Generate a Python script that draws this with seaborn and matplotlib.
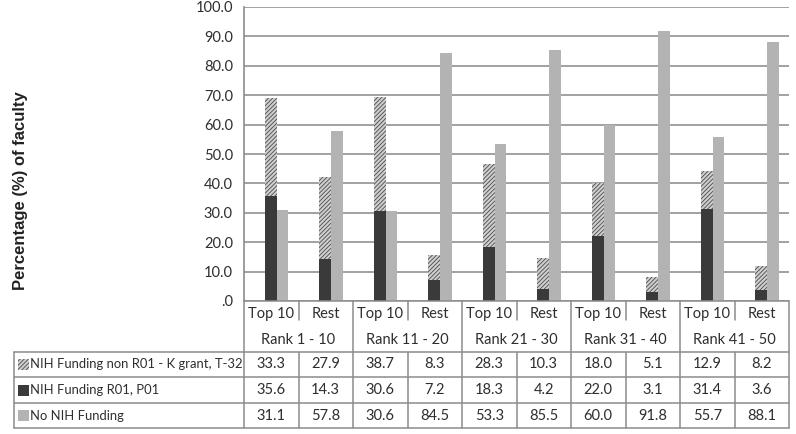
import matplotlib
matplotlib.use("Agg")
import matplotlib.pyplot as plt
from matplotlib.patches import Rectangle
import seaborn as sns
import numpy as np

groups = ["Rank 1 - 10", "Rank 11 - 20", "Rank 21 - 30", "Rank 31 - 40", "Rank 41 - 50"]
subgroups = ["Top 10", "Rest"]
series_names = ["NIH Funding non R01 - K grant, T-32", "NIH Funding R01, P01", "No NIH Funding"]
non_r01 = [33.3, 27.9, 38.7, 8.3, 28.3, 10.3, 18.0, 5.1, 12.9, 8.2]
r01 = [35.6, 14.3, 30.6, 7.2, 18.3, 4.2, 22.0, 3.1, 31.4, 3.6]
no_nih = [31.1, 57.8, 30.6, 84.5, 53.3, 85.5, 60.0, 91.8, 55.7, 88.1]
yticks = np.arange(0, 101, 10)

sns.set_style("white")
plt.rcParams['font.family'] = ['Lato', 'DejaVu Sans']
plt.rcParams['hatch.linewidth'] = 0.6

DARK = '#3a3a3a'
LIGHT = '#b3b3b3'
HATCH_BG = '#cfcfcf'
HATCH_FG = '#4a4a4a'
LINE = '#8c8c8c'
TXT = '#2e2e2e'

W, H = 796, 434
fig = plt.figure(figsize=(W / 100, H / 100), dpi=100)

# pixel layout
x0, x1 = 244, 789
y_top, y_bot = 7, 301
ncol = len(non_r01)
colw = (x1 - x0) / ncol

ax = fig.add_axes([x0 / W, 1 - y_bot / H, (x1 - x0) / W, (y_bot - y_top) / H])
x = np.arange(ncol)
bw = 0.215
ax.bar(x + 0.49, r01, width=bw, color=DARK, linewidth=0, zorder=3)
ax.bar(x + 0.49, non_r01, bottom=r01, width=bw, facecolor=HATCH_BG,
       edgecolor=HATCH_FG, hatch='////////', linewidth=0, zorder=3)
ax.bar(x + 0.705, no_nih, width=bw, color=LIGHT, linewidth=0, zorder=3)

ax.set_xlim(0, ncol)
ax.set_ylim(0, 100)
ax.set_yticks(yticks)
ax.set_yticklabels([".0" if v == 0 else f"{v:.1f}" for v in yticks],
                   fontsize=10.5, color=TXT)
ax.tick_params(axis='y', length=0, pad=8)
ax.set_xticks([])
ax.yaxis.grid(True, color='#9a9a9a', linewidth=1.3, zorder=0)
ax.set_axisbelow(True)
for s in ['top', 'right', 'bottom']:
    ax.spines[s].set_visible(False)
ax.spines['left'].set_color(LINE)
ax.spines['left'].set_linewidth(1.2)

fig.text(21 / W, 1 - 191 / H, "Percentage (%) of faculty", rotation=90,
         ha='center', va='center', fontsize=12, fontweight='bold',
         family='Liberation Sans', color='#222222')

# data table under the chart
tab = fig.add_axes([0, 0, 1, 1], zorder=5)
tab.set_xlim(0, W)
tab.set_ylim(H, 0)
tab.axis('off')
tab.patch.set_alpha(0)

row_y = [301, 327, 352, 377, 403, 428]
lab_x = 14
lw = 1.1

tab.plot([x0, x1], [row_y[0], row_y[0]], color=LINE, lw=lw)
for ry in row_y[2:]:
    tab.plot([lab_x, x1], [ry, ry], color=LINE, lw=lw)
tab.plot([lab_x, lab_x], [row_y[2], row_y[-1]], color=LINE, lw=lw)
for k in range(ncol + 1):
    cx = x0 + k * colw
    if k % 2 == 0:
        tab.plot([cx, cx], [row_y[0], row_y[-1]], color=LINE, lw=lw)
    else:
        tab.plot([cx, cx], [row_y[0], 320], color=LINE, lw=lw)
        tab.plot([cx, cx], [row_y[2], row_y[-1]], color=LINE, lw=lw)

fs = 10.5
for i in range(ncol):
    cx = x0 + (i + 0.5) * colw
    tab.text(cx, 314, subgroups[i % 2], ha='center', va='center', fontsize=fs, color=TXT)
for g, name in enumerate(groups):
    cx = x0 + (2 * g + 1) * colw
    tab.text(cx, 340, name, ha='center', va='center', fontsize=fs, color=TXT)

table_rows = [non_r01, r01, no_nih]
key_styles = [dict(facecolor=HATCH_BG, edgecolor=HATCH_FG, hatch='////////', linewidth=0),
              dict(facecolor=DARK, linewidth=0),
              dict(facecolor=LIGHT, linewidth=0)]
for r, (name, vals, st) in enumerate(zip(series_names, table_rows, key_styles)):
    cy = (row_y[r + 2] + row_y[r + 3]) / 2
    tab.add_patch(Rectangle((18, cy - 5.5), 11, 11, **st))
    tab.text(30, cy, name, ha='left', va='center', fontsize=9.4, color=TXT)
    for i, v in enumerate(vals):
        cx = x0 + (i + 0.5) * colw
        tab.text(cx, cy, f"{v:.1f}", ha='center', va='center', fontsize=fs, color=TXT)

fig.savefig("out.png", dpi=100, facecolor='white')
